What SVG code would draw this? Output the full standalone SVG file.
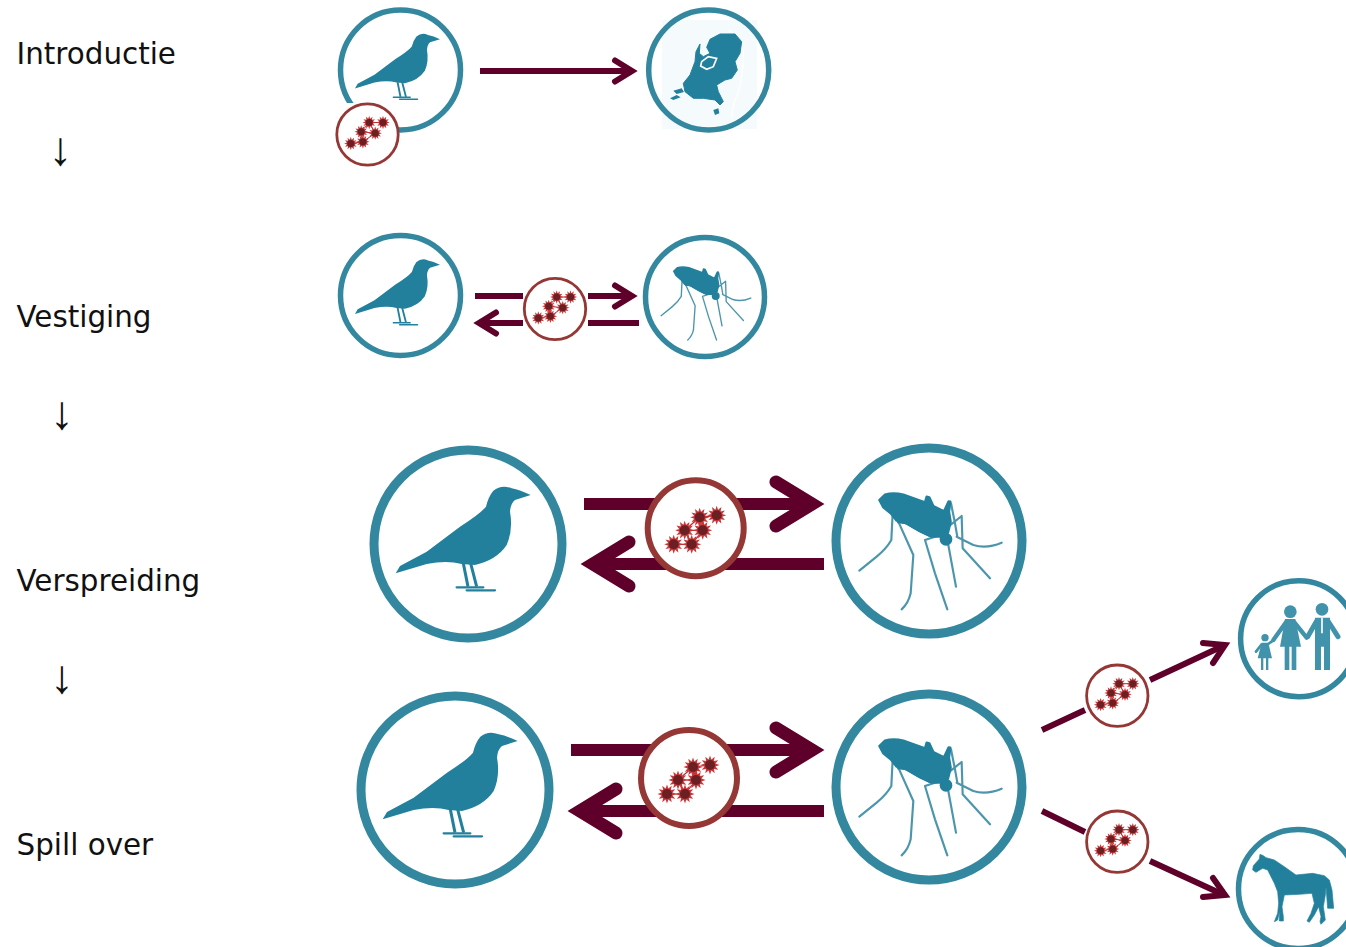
<svg xmlns="http://www.w3.org/2000/svg" xmlns:xlink="http://www.w3.org/1999/xlink" width="1346" height="947" viewBox="0 0 1346 947">
<style>
.label{font-family:"DejaVu Sans",Verdana,sans-serif;font-size:29.4px;fill:#111}
.down{font-family:"Liberation Serif","DejaVu Serif",serif;font-size:47px;fill:#111}
.ring{fill:#fff;stroke:#33879f}
.teal{fill:#23809d}
.tealine{fill:none;stroke:#4c96ad;stroke-linecap:round;stroke-linejoin:round}
.vring{fill:#fff;stroke:#953735}
.shaft{fill:none;stroke:#5f002b}
.head{fill:none;stroke:#5f002b;stroke-linecap:round;stroke-linejoin:miter;stroke-miterlimit:10}
.fam{fill:#4093ab}
.famline{fill:none;stroke:#4093ab;stroke-linecap:round;stroke-linejoin:round}
</style>
<defs>
<g id="spike"><polygon fill="#c8383a" points="0,-9.5 1.4,-5.500 4.7,-8.2 3.900,-3.900 8.2,-4.7 5.500,-1.400 9.5,0 5.500,1.400 8.2,4.7 3.900,3.900 4.7,8.2 1.4,5.500 0,9.5 -1.4,5.500 -4.7,8.2 -3.900,3.900 -8.2,4.7 -5.500,1.400 -9.5,0 -5.500,-1.400 -8.2,-4.7 -3.900,-3.900 -4.7,-8.2 -1.400,-5.500"/><circle r="5" fill="#6b1f22"/></g>
<g id="cluster">
<path d="M-22,16H-4L-11,2L7,2L4,-11L21,-13M-11,2L4,-11M-4,16L7,2" fill="none" stroke="#c0282a" stroke-width="1.200"/>
<use xlink:href="#spike" href="#spike" x="-22" y="16"/><use xlink:href="#spike" href="#spike" x="-4" y="16"/><use xlink:href="#spike" href="#spike" x="-11" y="2"/><use xlink:href="#spike" href="#spike" x="7" y="2"/><use xlink:href="#spike" href="#spike" x="4" y="-11"/><use xlink:href="#spike" href="#spike" x="21" y="-13"/>
</g>
<g id="cluster-small">
<path d="M-16.700,9L-4.600,7.300L-6.300,-2.700L7.700,-1.300L1.700,-12L15.500,-12M-6.300,-2.700L1.700,-12M-4.600,7.300L7.700,-1.300" fill="none" stroke="#c0282a" stroke-width="1"/>
<use xlink:href="#spike" href="#spike" transform="translate(-16.700,9) scale(.7)"/><use xlink:href="#spike" href="#spike" transform="translate(-4.600,7.300) scale(.7)"/><use xlink:href="#spike" href="#spike" transform="translate(-6.300,-2.700) scale(.7)"/><use xlink:href="#spike" href="#spike" transform="translate(7.700,-1.300) scale(.7)"/><use xlink:href="#spike" href="#spike" transform="translate(1.700,-12) scale(.7)"/><use xlink:href="#spike" href="#spike" transform="translate(15.500,-12) scale(.7)"/>
</g>
<g id="bird">
<g transform="scale(.3333) translate(-324,-312)">
<path class="teal" d="M512,165Q480,150 455,145Q425,132 400,152Q385,170 378,200Q360,222 300,260L200,335L120,378L107,400L200,372Q260,360 305,372L345,375Q410,360 440,315Q460,270 450,215Q452,190 465,180Z"/>
<path d="M310,370L324,440M332,370L350,440" fill="none" stroke="#23809d" stroke-width="9"/>
<path d="M290,442H370M320,451H405" fill="none" stroke="#23809d" stroke-width="7" stroke-linecap="round"/>
</g></g>
<g id="mosquito">
<g transform="translate(-79,-61) scale(.3333)">
<path class="tealine" stroke-width="6.500" d="M128,100L124,180Q110,205 80,230L28,272M145,125L190,225L182,340Q175,370 155,388M262,168L225,180L255,280L292,388M295,195L318,320M295,140L335,108L338,205L420,295M320,170L370,195Q410,207 455,188M303,70L315,130L322,170"/>
<path class="teal" stroke="#23809d" stroke-width="7" stroke-linejoin="round" d="M88,60L105,44Q130,36 160,44L225,67L230,50L238,52L250,78L282,94L296,64L301,65L297,95L302,125L294,158L272,170L245,170L215,156L170,130L140,122L122,100L100,82Z"/>
<path class="teal" d="M140,115L170,120L240,160L240,172L205,155L165,132L142,130Z"/>
<circle class="teal" cx="288" cy="178" r="19"/>
</g></g>
</defs>
<g id="labels">
<text class="label" x="16.500" y="64">Introductie</text>
<text class="label" x="16.500" y="327">Vestiging</text>
<text class="label" x="16.500" y="591">Verspreiding</text>
<text class="label" x="16.500" y="855">Spill over</text>
<text class="down" x="48.500" y="165">↓</text>
<text class="down" x="50" y="429">↓</text>
<text class="down" x="50" y="693">↓</text>
</g>
<g id="connectors">
<path class="shaft" stroke-width="6" d="M480,71H630"/>
<path class="head" stroke-width="6" d="M615,60.500L632,71L615,81.500"/>
<path class="shaft" stroke-width="6" d="M475,296H523M588,296H630"/>
<path class="head" stroke-width="6" d="M615,285.500L632,296L615,306.500"/>
<path class="shaft" stroke-width="6" d="M639,323H588M523,323H482"/>
<path class="head" stroke-width="6" d="M496,312.500L479,323L496,333.500"/>
<path class="shaft" stroke-width="12" d="M584,504H810M824,564H596"/>
<path class="head" stroke-width="13" d="M776,482L812,504L776,526"/>
<path class="head" stroke-width="13" d="M629,542L593,564L629,586"/>
<path class="shaft" stroke-width="12" d="M571,750H810M824,811H583"/>
<path class="head" stroke-width="13" d="M776,728L812,750L776,772"/>
<path class="head" stroke-width="13" d="M616,789L580,811L616,833"/>
<path class="shaft" stroke-width="6" d="M1042,730L1085,710M1150,680L1224,645.500"/>
<path class="head" stroke-width="6" d="M1203,643L1225,645L1213,663"/>
<path class="shaft" stroke-width="6" d="M1042,811L1085,832M1150,861L1224,895"/>
<path class="head" stroke-width="6" d="M1213,878L1225,895L1203,897"/>
</g>
<g id="node-bird-1"><circle class="ring" cx="400.500" cy="70" r="60" stroke-width="5.500"/><use xlink:href="#bird" href="#bird" transform="translate(400.500,70) scale(.63)"/></g>
<g id="node-virus-1"><rect x="335" y="103" width="35" height="32" fill="#fff"/><circle class="vring" cx="367.500" cy="134.500" r="30.700" stroke-width="2.800"/><use xlink:href="#cluster-small" href="#cluster-small" x="367.500" y="134.500"/></g>
<g id="node-nl"><rect x="662" y="20" width="95" height="109" fill="#f5fafc"/><circle cx="708.700" cy="70" r="60" fill="none" stroke="#33879f" stroke-width="5.500"/>
<g transform="translate(660,20) scale(.3333)">
<path d="M205,30Q255,60 250,120Q245,200 225,240Q215,270 215,295" fill="none" stroke="#fff" stroke-width="4"/>
<path class="teal" stroke="#23809d" stroke-width="3" stroke-linejoin="round" d="M150,58L180,42L225,42L245,65L240,100L225,125L232,150L215,175L195,180L170,195L175,215L190,245L180,255L165,240L130,235L100,235L75,215L70,190L90,165L105,125L108,95L120,72L118,100L130,110L150,100L140,82Z"/>
<path class="teal" stroke="#fff" stroke-width="5" d="M125,125L145,110L170,115L160,140L140,148L122,138Z"/>
<path class="teal" d="M160,270L175,265L178,280L165,285ZM30,235L50,225L62,232L40,240ZM40,212L65,205L72,216L50,222Z"/>
</g></g>
<g id="node-bird-2"><circle class="ring" cx="400.500" cy="295.500" r="60" stroke-width="5.500"/><use xlink:href="#bird" href="#bird" transform="translate(400.500,295.500) scale(.63)"/></g>
<g id="node-mosquito-2"><circle class="ring" cx="705" cy="297" r="59.500" stroke-width="5.500"/><use xlink:href="#mosquito" href="#mosquito" transform="translate(705,297) scale(.63)"/></g>
<g id="node-virus-2"><circle class="vring" cx="555" cy="309" r="30.700" stroke-width="2.800"/><use xlink:href="#cluster-small" href="#cluster-small" x="555" y="309"/></g>
<g id="node-bird-3"><circle class="ring" cx="468" cy="544" r="94" stroke-width="9"/><use xlink:href="#bird" href="#bird" x="468" y="544"/></g>
<g id="node-mosquito-3"><circle class="ring" cx="929" cy="541" r="93" stroke-width="9"/><use xlink:href="#mosquito" href="#mosquito" x="929" y="541"/></g>
<g id="node-virus-3"><circle class="vring" cx="695.700" cy="528.300" r="48" stroke-width="6"/><use xlink:href="#cluster" href="#cluster" x="695.700" y="528.300"/></g>
<g id="node-bird-4"><circle class="ring" cx="455" cy="790" r="94" stroke-width="9"/><use xlink:href="#bird" href="#bird" x="455" y="790"/></g>
<g id="node-mosquito-4"><circle class="ring" cx="929" cy="787" r="93" stroke-width="9"/><use xlink:href="#mosquito" href="#mosquito" x="929" y="787"/></g>
<g id="node-virus-4"><circle class="vring" cx="689" cy="778" r="48" stroke-width="6"/><use xlink:href="#cluster" href="#cluster" x="689" y="778"/></g>
<g id="node-virus-5"><circle class="vring" cx="1117.300" cy="695.700" r="30.700" stroke-width="2.800"/><use xlink:href="#cluster-small" href="#cluster-small" x="1117.300" y="695.700"/></g>
<g id="node-virus-6"><circle class="vring" cx="1117.300" cy="841.700" r="30.700" stroke-width="2.800"/><use xlink:href="#cluster-small" href="#cluster-small" x="1117.300" y="841.700"/></g>
<g id="node-humans"><circle class="ring" cx="1298.600" cy="638.700" r="58" stroke-width="5.500"/>
<g transform="translate(1246,595) scale(.3333)">
<circle class="fam" cx="228" cy="43" r="19"/><circle class="fam" cx="133" cy="50" r="19"/><circle class="fam" cx="57" cy="128" r="11"/>
<path class="fam" d="M207,68H252V150H252V225H234V155H225V225H207Z"/>
<path class="famline" stroke-width="15" d="M212,78L185,125M246,78L276,125"/>
<path class="fam" d="M117,72H148L165,155H151V225H137V155H130V225H116V155H102Z"/>
<path class="famline" stroke-width="13" d="M120,82L82,135M145,82L182,128"/>
<path class="fam" d="M47,143H67L78,190H67V225H60V190H52V225H45V190H35Z"/>
<path class="famline" stroke-width="8" d="M47,148L30,170M66,148L85,133"/>
<path d="M228,68V115" fill="none" stroke="#fff" stroke-width="5"/>
</g></g>
<g id="node-horse"><circle class="ring" cx="1298" cy="889" r="59.500" stroke-width="5.500"/>
<path class="teal" stroke="#23809d" stroke-width="2" stroke-linejoin="round" transform="translate(1246,845) scale(.3333)" d="M20,75L22,62L40,42L42,28L52,32L60,38L85,45L115,65L150,90L200,85L235,92L250,105L258,135L263,190L245,190L240,125L238,150L232,185L238,225L225,238L222,230L225,215L218,185L205,210L190,232L183,228L195,205L205,175L198,145L160,148L115,150L108,185L112,215L112,228L100,228L100,200L95,225L85,230L95,205L98,175L95,140L85,115L65,75L50,70L30,82Z"/></g>
</svg>
